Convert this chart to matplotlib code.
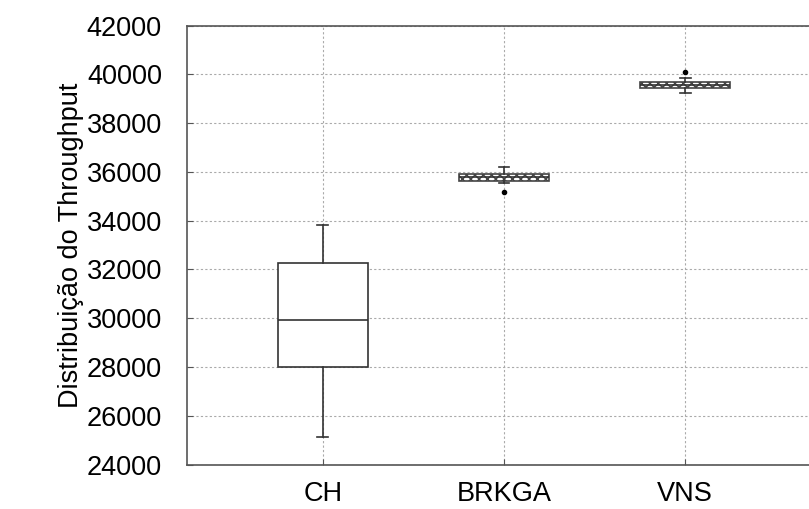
import matplotlib
matplotlib.use('Agg')
import matplotlib.pyplot as plt

plt.rcParams['font.family'] = ['Liberation Sans', 'DejaVu Sans']

# box statistics
labels = ['CH', 'BRKGA', 'VNS']
whislo = [25130, 35550, 39250]
q1 = [28010, 35640, 39450]
med = [29940, 35780, 39560]
q3 = [32250, 35900, 39670]
whishi = [33810, 36200, 39860]
fliers = [[], [35190], [40107]]
yticks = [24000, 26000, 28000, 30000, 32000, 34000, 36000, 38000, 40000, 42000]

stats = []
for i in range(len(labels)):
    stats.append({'label': labels[i], 'whislo': whislo[i], 'q1': q1[i], 'med': med[i],
                  'q3': q3[i], 'whishi': whishi[i], 'fliers': fliers[i]})

fig = plt.figure(figsize=(8.09, 5.09), dpi=100)
ax = fig.add_axes([0.2311, 0.0874, 0.7837, 0.8625])

lc = '#333333'
bp = ax.bxp(stats, positions=[1, 2, 3], widths=0.5, capwidths=0.06, patch_artist=True,
            boxprops=dict(facecolor='white', edgecolor=lc, linewidth=1.2),
            medianprops=dict(color=lc, linewidth=1.2),
            whiskerprops=dict(color=lc, linewidth=1.2),
            capprops=dict(color=lc, linewidth=1.2),
            flierprops=dict(marker='o', markerfacecolor='black', markeredgecolor='black',
                            markersize=3))
for b in bp['boxes'][1:]:
    b.set_hatch('xxxx')
    b.set_edgecolor('#444444')

ax.set_xlim(0.25, 3.75)
ax.set_ylim(24000, 42000)
ax.set_yticks(yticks)
ax.set_yticklabels([str(v) for v in yticks])
ax.grid(True, linestyle=(0, (2, 2)), color='#aaaaaa', linewidth=0.8)
ax.set_axisbelow(True)
ax.tick_params(direction='in', length=4, labelsize=19.5, pad=18, color='#555555')
ax.tick_params(axis='x', pad=12)
for s in ax.spines.values():
    s.set_color('#555555')
    s.set_linewidth(1.2)

ax.set_ylabel('Distribuição do Throughput', fontsize=19.5, labelpad=2)

plt.savefig('out.png', dpi=100)
